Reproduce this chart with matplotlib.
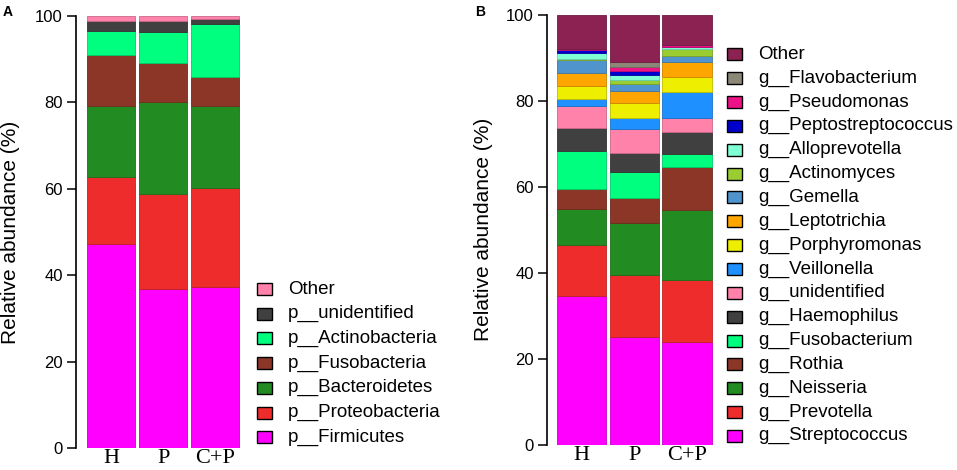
import matplotlib.pyplot as plt
import matplotlib.colors as mcolors
from matplotlib.patches import Rectangle
import numpy as np

plt.rcParams['font.family'] = ['Liberation Sans', 'DejaVu Sans']

groups = ["H", "P", "C+P"]

# Panel A: phylum level (bottom -> top)
phyla = ["p__Firmicutes", "p__Proteobacteria", "p__Bacteroidetes", "p__Fusobacteria",
         "p__Actinobacteria", "p__unidentified", "Other"]
phyla_colors = ["#FF00FF", "#EE2C2C", "#228B22", "#8B3626", "#00FF7F", "#404040", "#FF82AB"]
phyla_H = [47.2, 15.6, 16.4, 11.7, 5.6, 2.3, 1.2]
phyla_P = [36.8, 22.0, 21.2, 9.2, 7.1, 2.5, 1.2]
phyla_CP = [37.3, 22.9, 19.0, 6.6, 12.4, 1.0, 0.8]

# Panel B: genus level (bottom -> top)
genera = ["g__Streptococcus", "g__Prevotella", "g__Neisseria", "g__Rothia", "g__Fusobacterium",
          "g__Haemophilus", "g__unidentified", "g__Veillonella", "g__Porphyromonas",
          "g__Leptotrichia", "g__Gemella", "g__Actinomyces", "g__Alloprevotella",
          "g__Peptostreptococcus", "g__Pseudomonas", "g__Flavobacterium", "Other"]
genera_colors = ["#FF00FF", "#EE2C2C", "#228B22", "#8B3626", "#00FF7F", "#404040", "#FF82AB",
                 "#1E90FF", "#EEEE00", "#FFA500", "#4F94CD", "#9ACD32", "#7FFFD4",
                 "#0000CD", "#EE1289", "#8B8878", "#8B2252"]
genera_H = [34.7, 11.7, 8.5, 4.6, 8.9, 5.2, 5.2, 1.7, 2.9, 3.1, 2.9, 0.4, 1.2, 0.9, 0.05, 0.05, 8.0]
genera_P = [25.1, 14.3, 12.2, 5.8, 6.0, 4.4, 5.7, 2.5, 3.4, 2.9, 1.7, 0.8, 1.1, 1.1, 0.9, 1.2, 10.9]
genera_CP = [24.0, 14.4, 16.3, 10.0, 3.0, 5.0, 3.4, 5.9, 3.5, 3.5, 1.3, 1.7, 0.5, 0.1, 0.3, 0.1, 7.0]

W, H = 957, 470
fig = plt.figure(figsize=(W / 100, H / 100), dpi=100)


def px_axes(x0, x1, ytop, ybot):
    return fig.add_axes([x0 / W, 1 - ybot / H, (x1 - x0) / W, (ybot - ytop) / H])


def stacked(ax, names, colors, series, centers_px, spine_px, right_px, width):
    data = np.array(series)
    x = np.arange(len(groups))
    bottom = np.zeros(len(groups))
    for i, name in enumerate(names):
        edge = np.array(mcolors.to_rgb(colors[i])) * 0.8
        ax.bar(x, data[:, i], width, bottom=bottom, color=colors[i],
               edgecolor=edge, linewidth=0.6, label=name)
        bottom += data[:, i]
    step = (centers_px[-1] - centers_px[0]) / (len(groups) - 1)
    ax.set_xlim((spine_px - centers_px[0]) / step, (right_px - centers_px[0]) / step)
    ax.set_ylim(0, 100)
    ax.set_yticks([0, 20, 40, 60, 80, 100])
    ax.set_xticks(x)
    ax.set_xticklabels(groups, family=['Liberation Serif', 'DejaVu Serif'], fontsize=16)
    ax.tick_params(axis='x', length=0, pad=1)
    ax.tick_params(axis='y', length=6.5, width=1.1, labelsize=12, pad=3)
    for s in ['top', 'right', 'bottom']:
        ax.spines[s].set_visible(False)
    ax.spines['left'].set_linewidth(1.2)
    ax.set_ylabel("Relative abundance (%)", fontsize=15)


def legend(names, colors, sq_x, text_x, y0, dy):
    for k, (name, col) in enumerate(reversed(list(zip(names, colors)))):
        yc = y0 + k * dy
        fig.add_artist(Rectangle((sq_x / W, 1 - (yc + 6) / H), 15 / W, 12 / H,
                                 facecolor=col, edgecolor='black', linewidth=1.0,
                                 transform=fig.transFigure))
        fig.text(text_x / W, 1 - yc / H, name, fontsize=13.5, va='center', ha='left')


# Panel A
axA = px_axes(76, 243, 16, 448)
stacked(axA, phyla, phyla_colors, [phyla_H, phyla_P, phyla_CP],
        [111.3, 163.0, 215.0], 76, 243, 0.92)
axA.yaxis.set_label_coords((20 - 76) / 167, 0.5)
legend(phyla, phyla_colors, 257, 288, 289, 24.7)

# Panel B
axB = px_axes(547, 714, 14.7, 445)
stacked(axB, genera, genera_colors, [genera_H, genera_P, genera_CP],
        [581.5, 634.3, 687.0], 547, 714, 0.93)
axB.yaxis.set_label_coords((493 - 547) / 167, 0.5)
legend(genera, genera_colors, 727, 758, 54.3, 23.85)

fig.text(3 / W, 1 - 5 / H, "A", fontsize=10, fontweight='bold', va='top', ha='left')
fig.text(475 / W, 1 - 5 / H, "B", fontsize=10, fontweight='bold', va='top', ha='left')

fig.savefig("out.png", dpi=100)
